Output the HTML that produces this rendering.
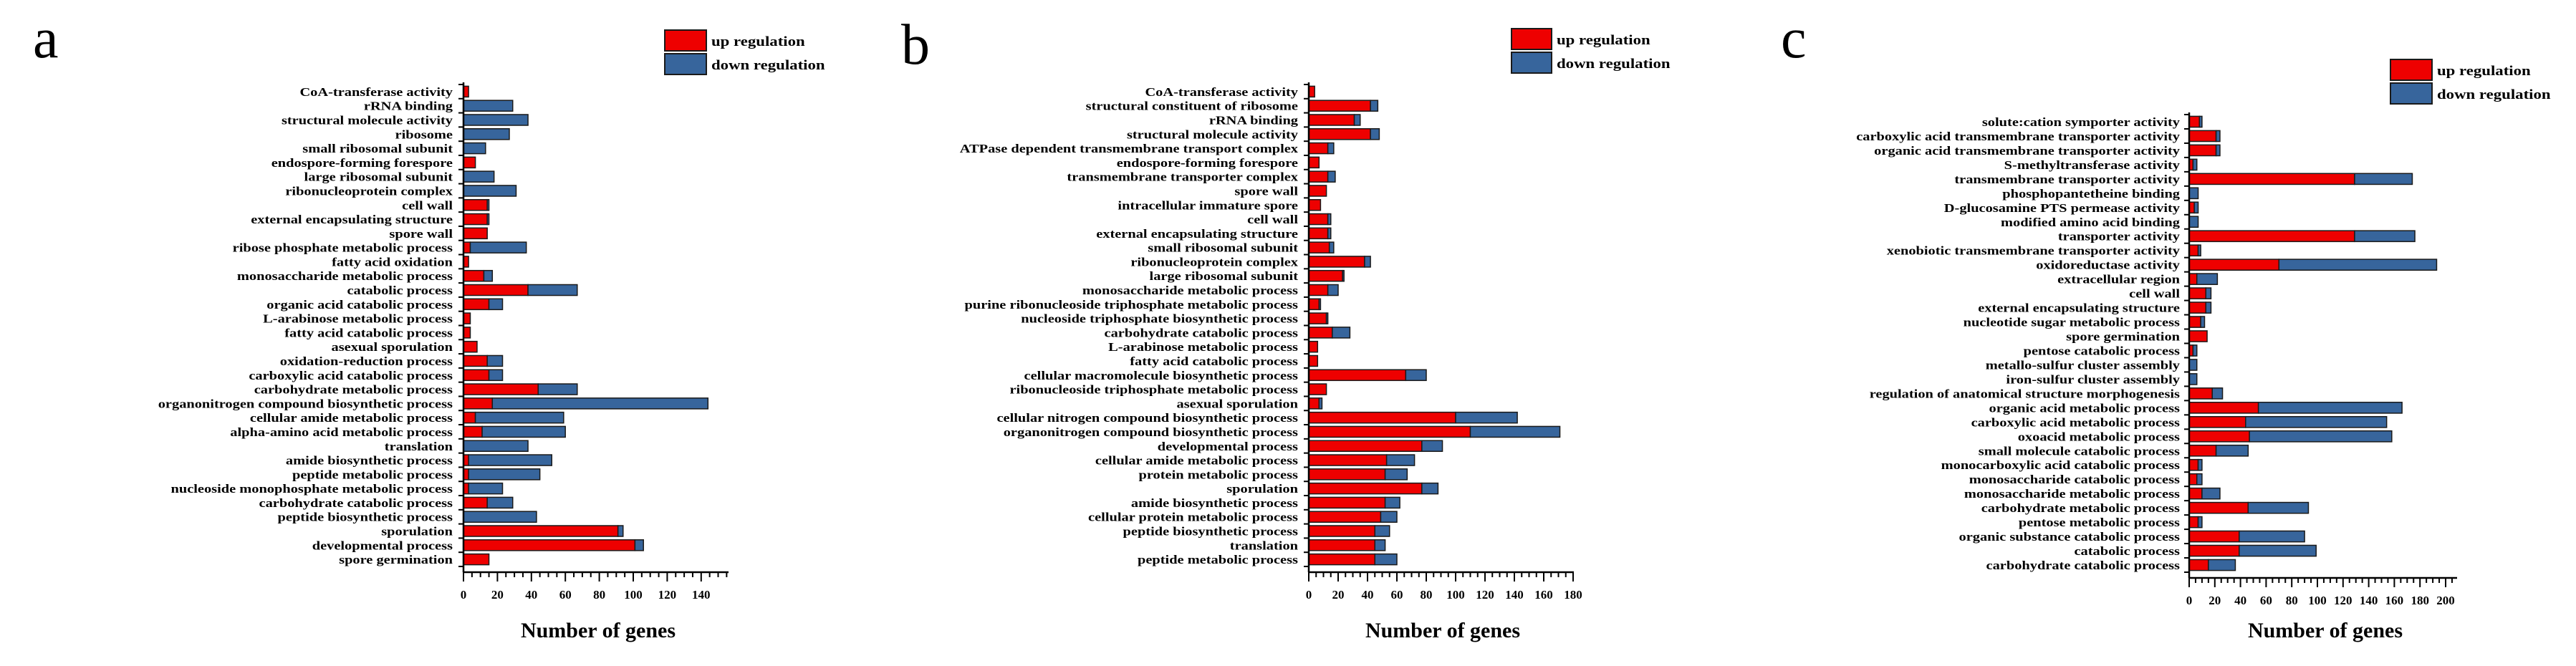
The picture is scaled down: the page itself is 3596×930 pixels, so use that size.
<!DOCTYPE html>
<html><head><meta charset="utf-8"><style>
html,body{margin:0;padding:0;background:#fff;}
svg{display:block;}
text{font-family:"Liberation Serif",serif;font-weight:bold;fill:#000;}
</style></head><body>
<svg id="chart" width="3596" height="930" viewBox="0 0 3596 930" xmlns="http://www.w3.org/2000/svg"></svg>
<script>
const catsA=["CoA-transferase activity","rRNA binding","structural molecule activity","ribosome","small ribosomal subunit","endospore-forming forespore","large ribosomal subunit","ribonucleoprotein complex","cell wall","external encapsulating structure","spore wall","ribose phosphate metabolic process","fatty acid oxidation","monosaccharide metabolic process","catabolic process","organic acid catabolic process","L-arabinose metabolic process","fatty acid catabolic process","asexual sporulation","oxidation-reduction process","carboxylic acid catabolic process","carbohydrate metabolic process","organonitrogen compound biosynthetic process","cellular amide metabolic process","alpha-amino acid metabolic process","translation","amide biosynthetic process","peptide metabolic process","nucleoside monophosphate metabolic process","carbohydrate catabolic process","peptide biosynthetic process","sporulation","developmental process","spore germination"];
const upA=[3,0,0,0,0,7,0,0,14,14,14,4,3,12,38,15,4,4,8,14,15,44,17,7,11,0,3,3,3,14,0,91,101,15];
const downA=[0,29,38,27,13,0,18,31,1,1,0,33,0,5,29,8,0,0,0,9,8,23,127,52,49,38,49,42,20,15,43,3,5,0];
const ticksA=[0,20,40,60,80,100,120,140];

const catsB=["CoA-transferase activity","structural constituent of ribosome","rRNA binding","structural molecule activity","ATPase dependent transmembrane transport complex","endospore-forming forespore","transmembrane transporter complex","spore wall","intracellular immature spore","cell wall","external encapsulating structure","small ribosomal subunit","ribonucleoprotein complex","large ribosomal subunit","monosaccharide metabolic process","purine ribonucleoside triphosphate metabolic process","nucleoside triphosphate biosynthetic process","carbohydrate catabolic process","L-arabinose metabolic process","fatty acid catabolic process","cellular macromolecule biosynthetic process","ribonucleoside triphosphate metabolic process","asexual sporulation","cellular nitrogen compound biosynthetic process","organonitrogen compound biosynthetic process","developmental process","cellular amide metabolic process","protein metabolic process","sporulation","amide biosynthetic process","cellular protein metabolic process","peptide biosynthetic process","translation","peptide metabolic process"];
const upB=[4,42,31,42,13,7,13,12,8,13,13,14,38,23,13,7,12,16,6,6,66,12,7,100,110,77,53,52,77,52,49,45,45,45];
const downB=[0,5,4,6,4,0,5,0,0,2,2,3,4,1,7,1,1,12,0,0,14,0,2,42,61,14,19,15,11,10,11,10,7,15];
const ticksB=[0,20,40,60,80,100,120,140,160,180];

const catsC=["solute:cation symporter activity","carboxylic acid transmembrane transporter activity","organic acid transmembrane transporter activity","S-methyltransferase activity","transmembrane transporter activity","phosphopantetheine binding","D-glucosamine PTS permease activity","modified amino acid binding","transporter activity","xenobiotic transmembrane transporter activity","oxidoreductase activity","extracellular region","cell wall","external encapsulating structure","nucleotide sugar metabolic process","spore germination","pentose catabolic process","metallo-sulfur cluster assembly","iron-sulfur cluster assembly","regulation of anatomical structure morphogenesis","organic acid metabolic process","carboxylic acid metabolic process","oxoacid metabolic process","small molecule catabolic process","monocarboxylic acid catabolic process","monosaccharide catabolic process","monosaccharide metabolic process","carbohydrate metabolic process","pentose metabolic process","organic substance catabolic process","catabolic process","carbohydrate catabolic process"];
const upC=[8,21,21,3,129,0,4,0,129,7,70,6,13,13,9,14,3,0,0,18,54,44,47,21,7,6,10,46,7,39,39,15];
const downC=[2,3,3,3,45,7,3,7,47,2,123,16,4,4,3,0,3,6,6,8,112,110,111,25,3,4,14,47,3,51,60,21];
const ticksC=[0,20,40,60,80,100,120,140,160,180,200];

const NS="http://www.w3.org/2000/svg";
const svg=document.getElementById('chart');
function mk(tag,attrs,parent){const e=document.createElementNS(NS,tag);for(const k in attrs)e.setAttribute(k,attrs[k]);(parent||svg).appendChild(e);return e;}

function panel(p){
  const g=mk('g',{});
  
  
  const n=p.cats.length;
  const band=(p.bottom-p.top)/n;
  const xs=v=>p.x0+v*p.ppu;
  const ys=i=>p.top+i*band;
  const L=mk('text',{x:p.letterX,y:p.letterY,'font-size':80},g);
  
  
  L.style.fontWeight='normal';
  L.textContent=p.id;
  for(let i=0;i<n;i++){
    const y=ys(i)+band*0.12,h=band*0.76;
    if(p.up[i]>0){
      const r=mk('rect',{x:xs(0),y:y,width:xs(p.up[i])-xs(0),height:h,fill:'#ee0000',stroke:'#1a1a1a','stroke-width':1.5},g);
      
      
    }
    if(p.down[i]>0){
      const r=mk('rect',{x:xs(p.up[i]),y:y,width:xs(p.up[i]+p.down[i])-xs(p.up[i]),height:h,fill:'#37659c',stroke:'#1a1a1a','stroke-width':1.5},g);
      
      
    }
    const t=mk('text',{x:p.labelX,y:ys(i)+band*0.5+6,'font-size':17,'text-anchor':'end'},g);
    
    
    t.textContent=p.cats[i];
    const w=t.getComputedTextLength();
    if(w>0){t.setAttribute('textLength',w*1.2);t.setAttribute('lengthAdjust','spacingAndGlyphs');}
    mk('line',{x1:xs(0)-7,x2:xs(0),y1:ys(i),y2:ys(i),stroke:'#000','stroke-width':2},g);
  }
  mk('line',{x1:xs(0)-7,x2:xs(0),y1:p.bottom,y2:p.bottom,stroke:'#000','stroke-width':2},g);
  const ya=mk('line',{x1:xs(0),x2:xs(0),y1:p.top-3,y2:p.bottom+8,stroke:'#000','stroke-width':2.5},g);
  
  const xa=mk('line',{x1:xs(0)-1,x2:p.axisEnd,y1:p.bottom+8,y2:p.bottom+8,stroke:'#000','stroke-width':2.5},g);
  
  for(let v=0;xs(v)<=p.axisEnd+0.5;v+=5){
    const major=v%20===0;
    mk('line',{x1:xs(v),x2:xs(v),y1:p.bottom+8,y2:p.bottom+8+(major?13:7),stroke:'#000','stroke-width':2},g);
  }
  p.ticks.forEach(v=>{
    const t=mk('text',{x:xs(v),y:p.bottom+45,'font-size':17,'text-anchor':'middle'},g);
    
    
    t.textContent=v;
  });
  const ti=mk('text',{x:p.titleX,y:890,'font-size':30,'text-anchor':'middle'},g);
  
  
  ti.textContent='Number of genes';
  const lg=mk('g',{},g);
  
  
  const e1=mk('rect',{x:p.legX,y:p.legY,width:p.legW,height:29,fill:'#ee0000',stroke:'#1a1a1a','stroke-width':2},lg);
  
  const e2=mk('rect',{x:p.legX,y:p.legY+33,width:p.legW,height:29,fill:'#37659c',stroke:'#1a1a1a','stroke-width':2},lg);
  
  const t1=mk('text',{x:p.legX+p.legW+7,y:p.legY+22,'font-size':19},lg);
  
  t1.textContent='up regulation';
  const t2=mk('text',{x:p.legX+p.legW+7,y:p.legY+55,'font-size':19},lg);
  
  t2.textContent='down regulation';
  [t1,t2].forEach(t=>{const w=t.getComputedTextLength();if(w>0){t.setAttribute('textLength',w*1.2);t.setAttribute('lengthAdjust','spacingAndGlyphs');}});
}

panel({id:'a',cats:catsA,up:upA,down:downA,ticks:ticksA,x0:647,ppu:2.37,axisEnd:1017,top:118,bottom:791,labelX:632,titleX:835,letterX:46,letterY:80,legX:928,legY:42,legW:58});
panel({id:'b',cats:catsB,up:upB,down:downB,ticks:ticksB,x0:1827,ppu:2.05,axisEnd:2197,top:118,bottom:791,labelX:1812,titleX:2014,letterX:1258,letterY:89,legX:2110,legY:40,legW:56});
panel({id:'c',cats:catsC,up:upC,down:downC,ticks:ticksC,x0:3056,ppu:1.79,axisEnd:3430,top:160,bottom:799,labelX:3043,titleX:3246,letterX:2486,letterY:80,legX:3337,legY:83,legW:58});
</script>
</body></html>
